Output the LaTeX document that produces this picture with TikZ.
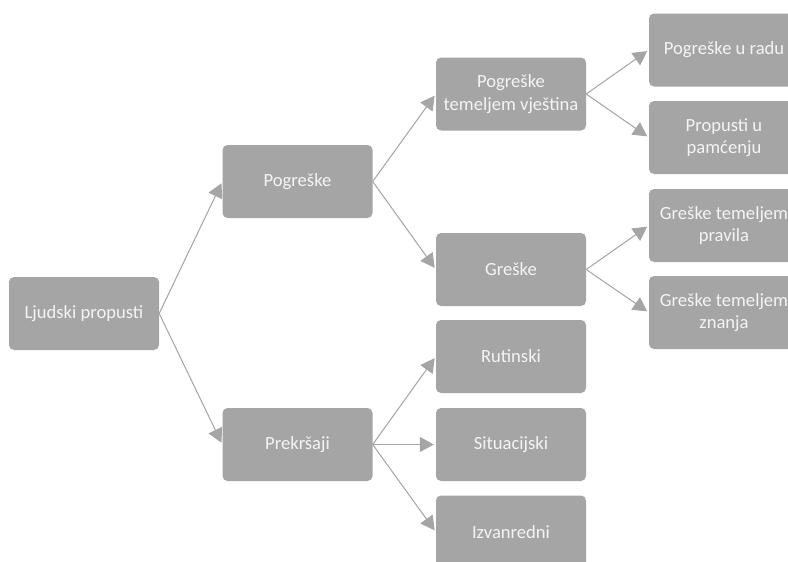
\documentclass[tikz,border=0pt]{standalone}
\usepackage{fontspec}
\setmainfont{Carlito}
\usetikzlibrary{arrows.meta}
\definecolor{boxgray}{HTML}{A5A5A5}
\definecolor{boxtext}{HTML}{F4F4F4}
\definecolor{linegray}{HTML}{A5A5A5}
\tikzset{
  catbox/.style={rectangle, rounded corners=5pt, fill=boxgray, text=boxtext,
    minimum width=150pt, minimum height=73pt, align=center, inner sep=0pt,
    font=\fontsize{18.6}{22.6}\selectfont},
  conn/.style={draw=linegray, line width=1pt, shorten >=2pt,
    -{Triangle[length=14pt,width=15pt]}, fill=linegray}
}
\begin{document}
\begin{tikzpicture}[x=1pt,y=-1pt]
\useasboundingbox (0,0) rectangle (788,562);
\clip (0,0) rectangle (788,562);
\node[catbox] (L)  at (84,313.5)   {Ljudski propusti};
\node[catbox] (P1) at (297.5,181.5) {Pogreške};
\node[catbox] (P2) at (297.5,444.5) {Prekršaji};
\node[catbox] (PV) at (511,94)    {Pogreške\\temeljem vještina};
\node[catbox] (G)  at (511,269.5) {Greške};
\node[catbox] (R)  at (511,356.5) {Rutinski};
\node[catbox] (S)  at (511,444.5) {Situacijski};
\node[catbox] (I)  at (511,532)   {Izvanredni};
\node[catbox] (PR) at (724,50)    {Pogreške u radu};
\node[catbox] (PM) at (724,137.5) {Propusti u\\pamćenju};
\node[catbox] (GP) at (724,225.5) {Greške temeljem\\pravila};
\node[catbox] (GZ) at (724,312.5) {Greške temeljem\\znanja};
\draw[conn] (L.east) -- (P1.west);
\draw[conn] (L.east) -- (P2.west);
\draw[conn] (P1.east) -- (PV.west);
\draw[conn] (P1.east) -- (G.west);
\draw[conn] (P2.east) -- (R.west);
\draw[conn] (P2.east) -- (S.west);
\draw[conn] (P2.east) -- (I.west);
\draw[conn] (PV.east) -- (PR.west);
\draw[conn] (PV.east) -- (PM.west);
\draw[conn] (G.east) -- (GP.west);
\draw[conn] (G.east) -- (GZ.west);
\end{tikzpicture}
\end{document}
